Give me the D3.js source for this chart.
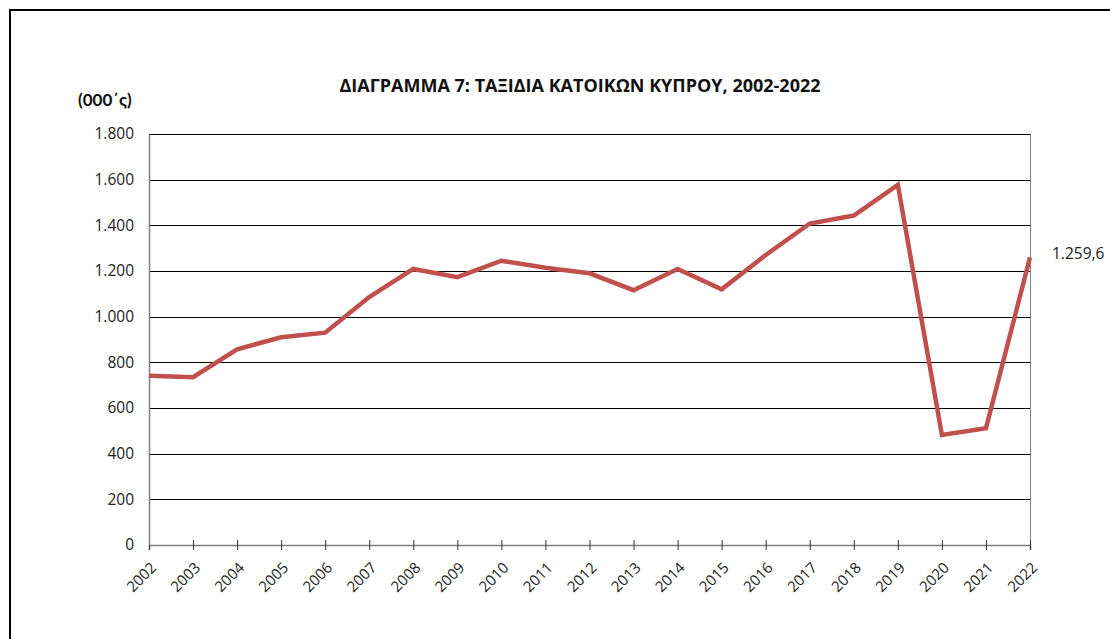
<!DOCTYPE html>
<html>
<head>
<meta charset="utf-8">
<script src="https://cdn.jsdelivr.net/npm/d3@7"></script>
<style>
  body { margin: 0; background: #fff; }
  svg { display: block; font-family: "Open Sans", Lato, sans-serif; }
</style>
</head>
<body>
<div id="chart"></div>
<script>
// Ταξίδια κατοίκων Κύπρου (000's), 2002-2022
var years = [2002, 2003, 2004, 2005, 2006, 2007, 2008, 2009, 2010, 2011, 2012,
             2013, 2014, 2015, 2016, 2017, 2018, 2019, 2020, 2021, 2022];
var trips = [741, 735, 857, 910, 930, 1086, 1209, 1173, 1245, 1214, 1190,
             1116, 1209, 1120, 1270, 1408, 1443, 1577, 482, 511, 1259.6];
var yTicks = [0, 200, 400, 600, 800, 1000, 1200, 1400, 1600, 1800];

var titleText = "ΔΙΑΓΡΑΜΜΑ 7: ΤΑΞΙΔΙΑ ΚΑΤΟΙΚΩΝ ΚΥΠΡΟΥ, 2002-2022";
var unitText = "(000΄ς)";

var W = 1110, H = 639;
var margin = {left: 149, right: 80, top: 134, bottom: 94};
var fontFam = "'Open Sans', Lato, sans-serif";

// greek number format: 1.259,6
var gr = d3.formatLocale({decimal: ",", thousands: ".", grouping: [3], currency: ["€", ""]});
var fmtTick = gr.format(",.0f");
var fmtLabel = gr.format(",.1f");

var svg = d3.select("#chart").append("svg")
    .attr("width", W)
    .attr("height", H);

svg.append("rect").attr("width", W).attr("height", H).attr("fill", "#fff");

// outer chart frame
svg.append("rect")
    .attr("x", 10).attr("y", 10)
    .attr("width", W + 20).attr("height", H + 20)
    .attr("fill", "none")
    .attr("stroke", "#000")
    .attr("stroke-width", 2);

var x = d3.scaleLinear()
    .domain([years[0], years[years.length - 1]])
    .range([margin.left, W - margin.right]);

var y = d3.scaleLinear()
    .domain([0, 1800])
    .range([H - margin.bottom, margin.top]);

// gridlines
svg.append("g")
    .selectAll("line")
    .data(yTicks.filter(function(d) { return d > 0; }))
    .enter()
    .append("line")
    .attr("x1", margin.left)
    .attr("x2", W - margin.right)
    .attr("y1", function(d) { return Math.round(y(d)) + 0.5; })
    .attr("y2", function(d) { return Math.round(y(d)) + 0.5; })
    .attr("stroke", "#000")
    .attr("stroke-width", 1);

// right border of plot area
svg.append("line")
    .attr("x1", Math.round(W - margin.right) + 0.5)
    .attr("x2", Math.round(W - margin.right) + 0.5)
    .attr("y1", margin.top)
    .attr("y2", H - margin.bottom)
    .attr("stroke", "#808080");

// y axis
var yAxis = svg.append("g")
    .attr("transform", "translate(" + margin.left + ",0)")
    .call(d3.axisLeft(y).tickValues(yTicks).tickSize(0).tickPadding(15).tickFormat(fmtTick));
yAxis.select(".domain").attr("stroke", "#808080").attr("stroke-width", 1.5);
yAxis.selectAll("text")
    .attr("font-size", "15.5px")
    .attr("fill", "#222")
    .attr("font-family", fontFam);

// x axis
var xAxis = svg.append("g")
    .attr("transform", "translate(0," + y(0) + ")")
    .call(d3.axisBottom(x).tickValues(years).tickSize(5).tickFormat(d3.format("d")));
xAxis.select(".domain").attr("stroke", "#808080").attr("stroke-width", 1.5);
xAxis.selectAll(".tick line")
    .attr("y1", function(d, i) { return i === 0 ? 0 : -5; })
    .attr("stroke", "#333");
xAxis.selectAll("text")
    .attr("font-size", "15px")
    .attr("fill", "#222")
    .attr("font-family", fontFam)
    .attr("text-anchor", "end")
    .attr("y", 0)
    .attr("dy", "0.35em")
    .attr("transform", "translate(4,20) rotate(-45)");

// line
var line = d3.line()
    .x(function(d, i) { return x(years[i]); })
    .y(function(d) { return y(d); });

svg.append("path")
    .datum(trips)
    .attr("d", line)
    .attr("fill", "none")
    .attr("stroke", "#C0504D")
    .attr("stroke-width", 4.5)
    .attr("stroke-linejoin", "miter");

// last value label
svg.append("text")
    .attr("x", x(years[years.length - 1]) + 22)
    .attr("y", y(trips[trips.length - 1]) - 4)
    .attr("dy", "0.35em")
    .attr("font-size", "15.5px")
    .attr("fill", "#222")
    .text(fmtLabel(trips[trips.length - 1]));

// title
svg.append("text")
    .attr("x", 580)
    .attr("y", 92)
    .attr("text-anchor", "middle")
    .attr("font-size", "18px")
    .attr("font-weight", "bold")
    .attr("fill", "#111")
    .text(titleText);

svg.append("text")
    .attr("x", 78)
    .attr("y", 106)
    .attr("font-size", "17px")
    .attr("font-weight", "bold")
    .attr("font-family", "Lato, sans-serif")
    .attr("fill", "#111")
    .text(unitText);
</script>
</body>
</html>
